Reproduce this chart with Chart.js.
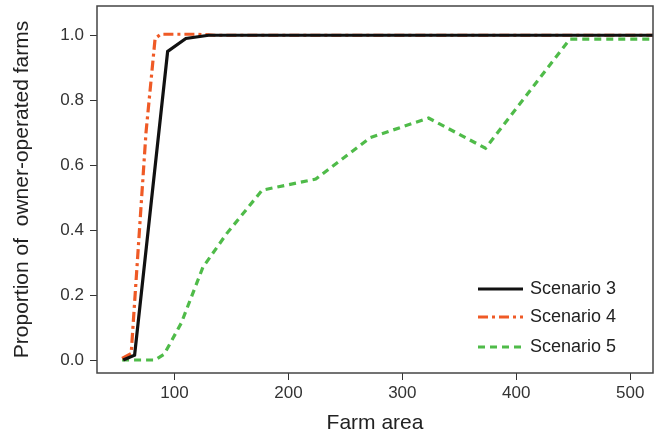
<!DOCTYPE html>
<html>
<head>
<meta charset="utf-8">
<script src="https://cdn.jsdelivr.net/npm/chart.js@4/dist/chart.umd.min.js"></script>
<style>
  html, body { margin: 0; padding: 0; background: #fff; }
  #wrap { width: 666px; height: 439px; position: relative; }
</style>
</head>
<body>
<div id="wrap"><canvas id="c" width="666" height="439"></canvas></div>
<script>
// ---- Data ----
const seriesNames = ["Scenario 3", "Scenario 4", "Scenario 5"];

const s3Area = [55, 65, 94, 110, 130, 520];
const s3Prop = [0.0, 0.015, 0.95, 0.99, 1.0, 1.0];

const s4Area = [54, 62, 75, 83, 88, 120, 135, 520];
const s4Prop = [0.005, 0.02, 0.70, 0.99, 1.003, 1.003, 1.0, 1.0];

const s5Area = [54, 83, 91, 106, 125, 146, 177, 224, 272, 323, 373, 447, 520];
const s5Prop = [0.0, 0.0, 0.018, 0.114, 0.286, 0.39, 0.523, 0.557, 0.685, 0.745, 0.652, 0.988, 0.988];

const xTicks = [100, 200, 300, 400, 500];
const yTicks = [0.0, 0.2, 0.4, 0.6, 0.8, 1.0];

const xTitle = "Farm area";
const yTitle = "Proportion of  owner-operated farms";

function pts(xs, ys) { return xs.map((x, i) => ({ x: x, y: ys[i] })); }

const FONT = "'Liberation Sans', Arial, Helvetica, sans-serif";
const AXIS_COLOR = "#333";

const frameAndLegend = {
  id: 'frameAndLegend',
  afterDraw(chart) {
    const ctx = chart.ctx;
    const a = chart.chartArea;
    ctx.save();
    ctx.strokeStyle = "#444";
    ctx.lineWidth = 1.5;
    ctx.setLineDash([]);
    ctx.strokeRect(a.left, a.top, a.right - a.left, a.bottom - a.top);

    // legend inside the plot area (bottom right)
    const x0 = a.right - 175, x1 = a.right - 130, tx = a.right - 123;
    const rows = [a.bottom - 84, a.bottom - 56, a.bottom - 26];
    chart.data.datasets.forEach((ds, i) => {
      const y = rows[i];
      ctx.beginPath();
      ctx.strokeStyle = ds.borderColor;
      ctx.lineWidth = ds.borderWidth;
      ctx.setLineDash(ds.borderDash || []);
      ctx.moveTo(x0, y);
      ctx.lineTo(x1, y);
      ctx.stroke();
      ctx.setLineDash([]);
      ctx.fillStyle = "#222";
      ctx.font = "18px " + FONT;
      ctx.textAlign = "left";
      ctx.textBaseline = "middle";
      ctx.fillText(ds.label, tx, y);
    });
    ctx.restore();
  }
};

new Chart(document.getElementById('c'), {
  type: 'line',
  data: {
    datasets: [
      { label: seriesNames[0], data: pts(s3Area, s3Prop), borderColor: '#111111', borderWidth: 3.2, borderDash: [], pointRadius: 0, tension: 0, fill: false },
      { label: seriesNames[1], data: pts(s4Area, s4Prop), borderColor: '#ef5a26', borderWidth: 3.2, borderDash: [10, 4, 3, 4], pointRadius: 0, tension: 0, fill: false },
      { label: seriesNames[2], data: pts(s5Area, s5Prop), borderColor: '#4fbb49', borderWidth: 3.2, borderDash: [7, 5], pointRadius: 0, tension: 0, fill: false }
    ]
  },
  options: {
    responsive: false,
    animation: false,
    devicePixelRatio: 1,
    layout: { padding: { left: 0, right: 13, top: 6, bottom: 0 } },
    plugins: { legend: { display: false }, tooltip: { enabled: false } },
    scales: {
      x: {
        type: 'linear',
        min: 32,
        max: 520,
        afterFit(scale) { scale.height = 66; scale.paddingLeft = 0; scale.paddingRight = 0; },
        afterBuildTicks(scale) { scale.ticks = xTicks.map(v => ({ value: v })); },
        border: { display: false },
        grid: { display: true, drawOnChartArea: false, drawTicks: true, tickLength: 7, color: AXIS_COLOR, lineWidth: 1 },
        ticks: { color: AXIS_COLOR, font: { family: FONT, size: 17 }, padding: 3, maxRotation: 0, autoSkip: false },
        title: { display: true, text: xTitle, color: '#222', font: { family: FONT, size: 21 }, padding: { top: 0, bottom: 3 } }
      },
      y: {
        type: 'linear',
        min: -0.04,
        max: 1.09,
        afterFit(scale) { scale.width = 97; scale.paddingTop = 0; scale.paddingBottom = 0; },
        afterBuildTicks(scale) { scale.ticks = yTicks.map(v => ({ value: v })); },
        border: { display: false },
        grid: { display: true, drawOnChartArea: false, drawTicks: true, tickLength: 7, color: AXIS_COLOR, lineWidth: 1 },
        ticks: { color: AXIS_COLOR, font: { family: FONT, size: 17 }, padding: 6, callback: v => Number(v).toFixed(1), autoSkip: false },
        title: { display: true, text: yTitle, color: '#222', font: { family: FONT, size: 21 }, padding: { top: 10, bottom: 0 } }
      }
    }
  },
  plugins: [frameAndLegend]
});
</script>
</body>
</html>
